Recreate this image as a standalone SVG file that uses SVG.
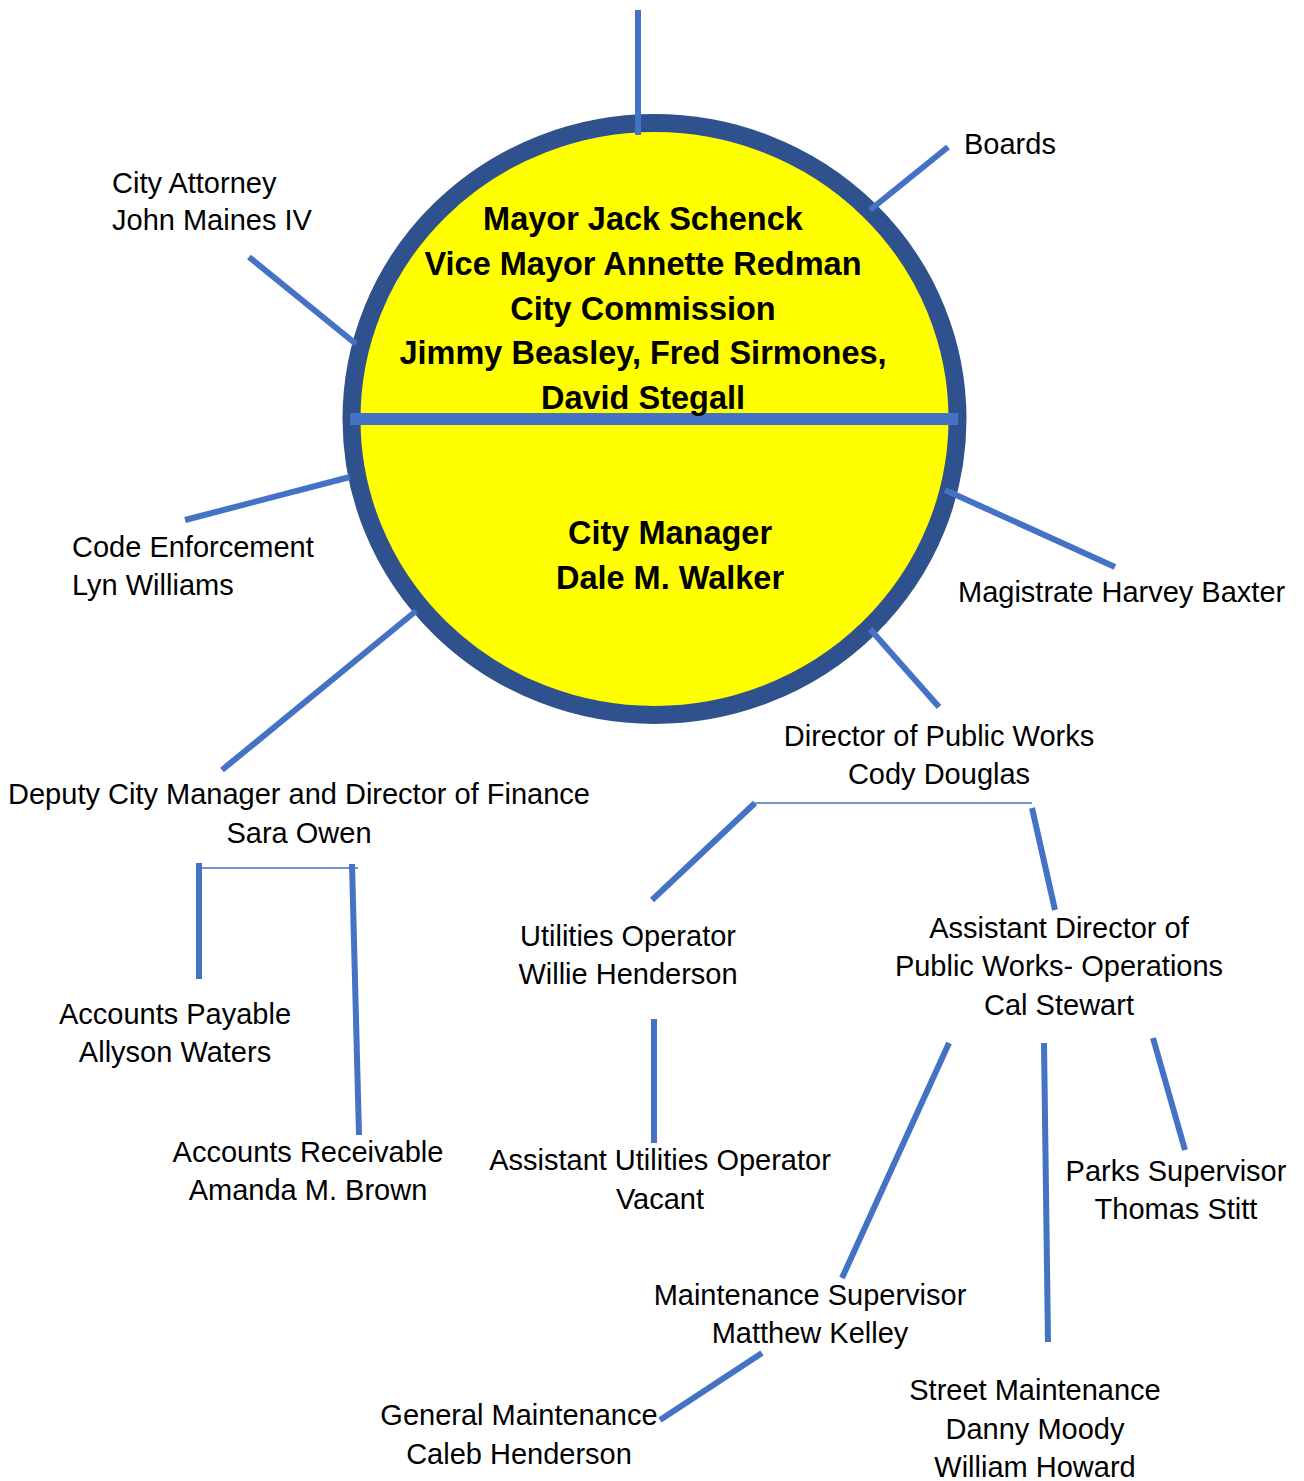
<svg xmlns="http://www.w3.org/2000/svg" width="1304" height="1481" viewBox="0 0 1304 1481">
<style>
.t{font-family:"Liberation Sans",Arial,sans-serif;font-size:29px;fill:#000}
.b{font-family:"Liberation Sans",Arial,sans-serif;font-size:32.5px;font-weight:bold;fill:#000;text-anchor:middle}
.m{text-anchor:middle}
.c{stroke:#4472C4;stroke-width:6;fill:none}
.thin{stroke:#4472C4;stroke-width:1.5;fill:none}
</style>
<rect width="1304" height="1481" fill="#fff"/>
<g id="council">
<ellipse cx="654.5" cy="419" rx="303" ry="296" fill="#FFFF00" stroke="#2F528F" stroke-width="18"/>
<line x1="350" y1="419" x2="958" y2="419" stroke="#4472C4" stroke-width="12"/>
<text class="b" x="643" y="230">Mayor Jack Schenck</text>
<text class="b" x="643" y="275">Vice Mayor Annette Redman</text>
<text class="b" x="643" y="320">City Commission</text>
<text class="b" x="643" y="364">Jimmy Beasley, Fred Sirmones,</text>
<text class="b" x="643" y="409">David Stegall</text>
<text class="b" x="670" y="544">City Manager</text>
<text class="b" x="670" y="589">Dale M. Walker</text>
</g>
<g id="connectors">
<line class="c" x1="638" y1="10" x2="638" y2="135"/>
<line class="c" x1="870" y1="210" x2="948" y2="147"/>
<line class="c" x1="249" y1="257" x2="356" y2="344"/>
<line class="c" x1="185" y1="520" x2="350" y2="477"/>
<line class="c" x1="945" y1="490" x2="1115" y2="567"/>
<line class="c" x1="870" y1="629" x2="939" y2="707"/>
<line class="c" x1="416" y1="611" x2="222" y2="770"/>
<line class="thin" x1="755" y1="803" x2="1032" y2="803"/>
<line class="c" x1="755" y1="803" x2="652" y2="900"/>
<line class="c" x1="1032" y1="808" x2="1055" y2="910"/>
<line class="c" x1="199" y1="863" x2="199" y2="979"/>
<line class="thin" x1="199" y1="868" x2="358" y2="868"/>
<line class="c" x1="352" y1="864" x2="359" y2="1135"/>
<line class="c" x1="654" y1="1019" x2="654" y2="1143"/>
<line class="c" x1="949" y1="1043" x2="842" y2="1278"/>
<line class="c" x1="1044" y1="1043" x2="1048" y2="1342"/>
<line class="c" x1="1153" y1="1038" x2="1185" y2="1150"/>
<line class="c" x1="762" y1="1353" x2="660" y2="1420"/>
</g>
<g id="attorney"><text class="t" x="112" y="193">City Attorney</text><text class="t" x="112" y="230">John Maines IV</text></g>
<g id="boards"><text class="t" x="964" y="154">Boards</text></g>
<g id="code"><text class="t" x="72" y="557">Code Enforcement</text><text class="t" x="72" y="595">Lyn Williams</text></g>
<g id="magistrate"><text class="t" x="958" y="602">Magistrate Harvey Baxter</text></g>
<g id="publicworks"><text class="t m" x="939" y="746">Director of Public Works</text><text class="t m" x="939" y="784">Cody Douglas</text></g>
<g id="deputy"><text class="t m" x="299" y="804">Deputy City Manager and Director of Finance</text><text class="t m" x="299" y="843">Sara Owen</text></g>
<g id="utilities"><text class="t m" x="628" y="946">Utilities Operator</text><text class="t m" x="628" y="984">Willie Henderson</text></g>
<g id="asstdir"><text class="t m" x="1059" y="938">Assistant Director of</text><text class="t m" x="1059" y="976">Public Works- Operations</text><text class="t m" x="1059" y="1015">Cal Stewart</text></g>
<g id="payable"><text class="t m" x="175" y="1024">Accounts Payable</text><text class="t m" x="175" y="1062">Allyson Waters</text></g>
<g id="receivable"><text class="t m" x="308" y="1162">Accounts Receivable</text><text class="t m" x="308" y="1200">Amanda M. Brown</text></g>
<g id="asstutil"><text class="t m" x="660" y="1170">Assistant Utilities Operator</text><text class="t m" x="660" y="1209">Vacant</text></g>
<g id="parks"><text class="t m" x="1176" y="1181">Parks Supervisor</text><text class="t m" x="1176" y="1219">Thomas Stitt</text></g>
<g id="maintsup"><text class="t m" x="810" y="1305">Maintenance Supervisor</text><text class="t m" x="810" y="1343">Matthew Kelley</text></g>
<g id="general"><text class="t m" x="519" y="1425">General Maintenance</text><text class="t m" x="519" y="1464">Caleb Henderson</text></g>
<g id="street"><text class="t m" x="1035" y="1400">Street Maintenance</text><text class="t m" x="1035" y="1439">Danny Moody</text><text class="t m" x="1035" y="1477">William Howard</text></g>
</svg>
